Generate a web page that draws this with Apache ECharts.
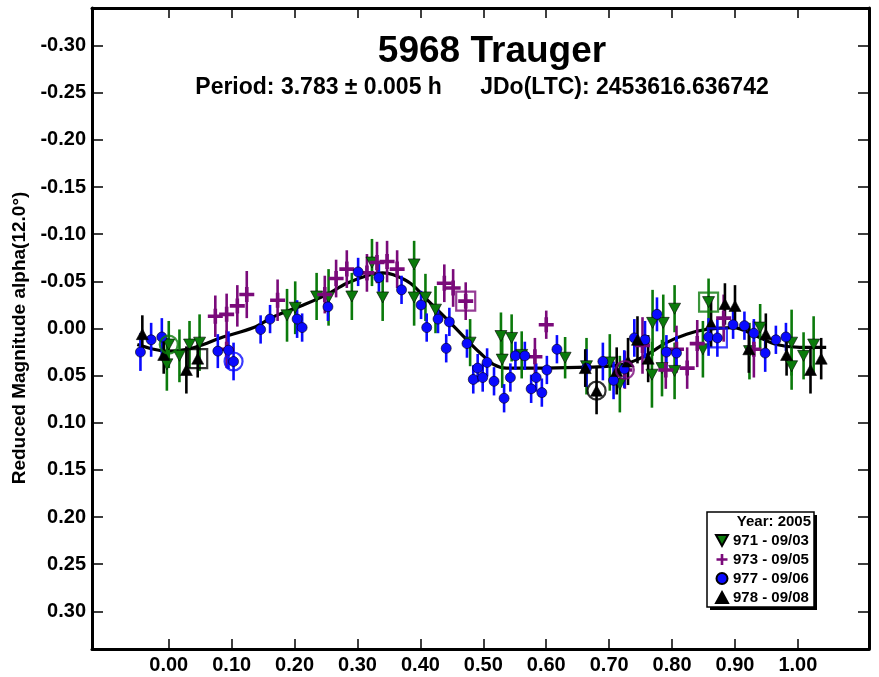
<!DOCTYPE html>
<html>
<head>
<meta charset="utf-8">
<script src="https://cdn.jsdelivr.net/npm/echarts@6/dist/echarts.min.js"></script>
<style>
  html, body { margin: 0; padding: 0; background: #fff; }
  #chart { width: 879px; height: 677px; }
</style>
</head>
<body>
<div id="chart"></div>
<script>
"use strict";

// tick positions
const xTicks = [0, 0.1, 0.2, 0.3, 0.4, 0.5, 0.6, 0.7, 0.8, 0.9, 1.0];
const yTicks = [-0.30, -0.25, -0.20, -0.15, -0.10, -0.05, 0, 0.05, 0.10, 0.15, 0.20, 0.25, 0.30];

// legend names
const sessions = ['971 - 09/03', '973 - 09/05', '977 - 09/06', '978 - 09/08'];

// [phase, reduced mag, error]
const pts971 = [
    [-0.003, 0.038, 0.028], [0.0, 0.017, 0.025], [0.017, 0.029, 0.028], [0.033, 0.017, 0.025],
    [0.049, 0.015, 0.030], [0.188, -0.014, 0.028], [0.201, -0.022, 0.028], [0.235, -0.034, 0.025],
    [0.254, -0.033, 0.030], [0.291, -0.034, 0.025], [0.323, -0.070, 0.025], [0.340, -0.033, 0.025],
    [0.390, -0.068, 0.025], [0.390, -0.033, 0.030], [0.408, -0.033, 0.025], [0.424, -0.020, 0.025],
    [0.479, 0.015, 0.025], [0.528, 0.008, 0.025], [0.530, 0.033, 0.030], [0.545, 0.010, 0.025],
    [0.561, 0.028, 0.025], [0.630, 0.031, 0.022], [0.664, 0.040, 0.030], [0.701, 0.036, 0.030],
    [0.717, 0.059, 0.030], [0.768, 0.049, 0.035], [0.769, -0.006, 0.035], [0.784, 0.042, 0.030],
    [0.786, -0.006, 0.030], [0.804, -0.021, 0.025], [0.804, 0.045, 0.030], [0.849, 0.022, 0.030],
    [0.858, -0.028, 0.025], [0.923, 0.024, 0.030], [0.940, -0.001, 0.025], [0.990, 0.015, 0.035],
    [0.990, 0.040, 0.025], [1.009, 0.029, 0.025], [1.025, 0.017, 0.030]
];
const pts973 = [
    [0.074, -0.013, 0.022], [0.092, -0.015, 0.022], [0.092, 0.022, 0.020], [0.109, -0.024, 0.022],
    [0.124, -0.036, 0.025], [0.173, -0.030, 0.022], [0.248, -0.036, 0.020], [0.266, -0.053, 0.020],
    [0.283, -0.063, 0.020], [0.315, -0.059, 0.020], [0.331, -0.070, 0.022], [0.347, -0.071, 0.022],
    [0.363, -0.063, 0.020], [0.438, -0.048, 0.020], [0.452, -0.043, 0.020], [0.472, -0.029, 0.020],
    [0.582, 0.030, 0.020], [0.600, -0.004, 0.015], [0.725, 0.044, 0.020], [0.753, 0.018, 0.030],
    [0.790, 0.044, 0.020], [0.807, 0.022, 0.025], [0.824, 0.042, 0.022], [0.840, 0.016, 0.025],
    [0.882, -0.011, 0.025], [0.930, 0.022, 0.030]
];
const pts977 = [
    [-0.045, 0.025, 0.020], [-0.028, 0.012, 0.018], [-0.011, 0.009, 0.020], [0.078, 0.024, 0.018],
    [0.095, 0.023, 0.020], [0.103, 0.035, 0.020], [0.146, 0.001, 0.015], [0.161, -0.010, 0.015],
    [0.204, -0.010, 0.020], [0.212, -0.001, 0.015], [0.253, -0.023, 0.015], [0.301, -0.060, 0.015],
    [0.334, -0.054, 0.015], [0.370, -0.041, 0.015], [0.401, -0.025, 0.015], [0.410, -0.001, 0.015],
    [0.428, -0.010, 0.015], [0.441, 0.021, 0.015], [0.446, -0.007, 0.015], [0.474, 0.016, 0.015],
    [0.484, 0.054, 0.015], [0.491, 0.042, 0.015], [0.499, 0.052, 0.015], [0.506, 0.036, 0.015],
    [0.517, 0.056, 0.015], [0.533, 0.074, 0.015], [0.543, 0.052, 0.015], [0.551, 0.029, 0.015],
    [0.566, 0.029, 0.015], [0.576, 0.064, 0.015], [0.584, 0.052, 0.015], [0.593, 0.068, 0.015],
    [0.601, 0.044, 0.015], [0.617, 0.022, 0.015], [0.664, 0.042, 0.020], [0.690, 0.035, 0.020],
    [0.707, 0.055, 0.020], [0.724, 0.043, 0.020], [0.740, 0.010, 0.020], [0.757, 0.012, 0.020],
    [0.776, -0.015, 0.018], [0.791, 0.025, 0.018], [0.807, 0.026, 0.018], [0.858, 0.009, 0.020],
    [0.872, 0.010, 0.020], [0.897, -0.004, 0.015], [0.915, -0.003, 0.015], [0.930, 0.005, 0.015],
    [0.948, 0.026, 0.020], [0.965, 0.012, 0.015], [0.981, 0.009, 0.015]
];
const pts978 = [
    [-0.042, 0.006, 0.020], [-0.008, 0.028, 0.020], [0.028, 0.044, 0.025], [0.046, 0.032, 0.020],
    [0.662, 0.042, 0.020], [0.680, 0.066, 0.025], [0.712, 0.045, 0.025], [0.730, 0.035, 0.025],
    [0.745, 0.012, 0.025], [0.762, 0.032, 0.025], [0.862, -0.005, 0.025], [0.884, -0.026, 0.022],
    [0.900, -0.024, 0.022], [0.922, 0.022, 0.025], [0.949, 0.006, 0.022], [0.982, 0.028, 0.022],
    [1.020, 0.044, 0.025], [1.037, 0.032, 0.022]
];

// first point of each session, [phase, mag, session index]
const circleMarks = [[0.0, 0.017, 0], [0.103, 0.035, 2], [0.680, 0.066, 3], [0.725, 0.044, 1]];
const squareMarks = [[0.046, 0.032, 3], [0.472, -0.029, 1], [0.858, -0.028, 0], [0.872, 0.010, 2]];

// Fourier fit
const fitPhase = [-0.05, -0.024, -0.003, 0.029, 0.055, 0.082, 0.135, 0.165, 0.214, 0.251, 0.283,
    0.320, 0.340, 0.357, 0.384, 0.410, 0.442, 0.468, 0.495, 0.516, 0.537, 0.590, 0.664, 0.701,
    0.733, 0.760, 0.791, 0.823, 0.855, 0.897, 0.934, 0.966, 1.003, 1.045];
const fitMag = [0.017, 0.022, 0.024, 0.022, 0.017, 0.010, -0.001, -0.012, -0.025, -0.036, -0.048,
    -0.057, -0.059, -0.057, -0.048, -0.031, -0.010, 0.008, 0.026, 0.038, 0.042, 0.042, 0.041, 0.040,
    0.036, 0.028, 0.015, 0.006, 0.001, -0.001, 0.008, 0.017, 0.020, 0.020];

const colors = ['#0b7a0b', '#7a0a7a', '#0a0aff', '#000000'];
const symbols = [
    'path://M0,0 L10,0 L5,9 Z',
    'path://M3.8,0 H6.2 V3.8 H10 V6.2 H6.2 V10 H3.8 V6.2 H0 V3.8 H3.8 Z',
    'circle',
    'triangle'
];
const sizes = [[12, 11], 15, 10, [12, 11]];
const allPts = [pts971, pts973, pts977, pts978];

const FONT = '"Liberation Sans", Arial, sans-serif';

function errBars(i) {
    return {
        type: 'custom',
        name: sessions[i] + ' err',
        silent: true,
        z: 2,
        renderItem: (params, api) => {
            const x = api.value(0), y = api.value(1), e = api.value(2);
            const a = api.coord([x, y - e]), b = api.coord([x, y + e]);
            return {
                type: 'line',
                shape: { x1: a[0], y1: a[1], x2: b[0], y2: b[1] },
                style: { stroke: colors[i], lineWidth: 2.6 }
            };
        },
        encode: { x: 0, y: 1 },
        data: allPts[i]
    };
}

function marks(i) {
    return {
        type: 'scatter',
        name: sessions[i],
        z: 3,
        symbol: symbols[i],
        symbolSize: sizes[i],
        itemStyle: { color: colors[i], borderColor: '#000', borderWidth: i === 1 ? 0 : 0.6, opacity: 1 },
        data: allPts[i].map(p => [p[0], p[1]])
    };
}

const series = [{
    type: 'line',
    name: 'fit',
    z: 1,
    smooth: 0.35,
    symbol: 'none',
    silent: true,
    lineStyle: { color: '#000', width: 3.2 },
    data: fitPhase.map((p, k) => [p, fitMag[k]])
}];
for (let i = 0; i < 4; i++) series.push(errBars(i));
for (let i = 0; i < 4; i++) series.push(marks(i));
series.push({
    type: 'scatter', name: 'first-circle', z: 4, silent: true,
    symbol: 'circle', symbolSize: 18,
    data: circleMarks.map(m => ({ value: [m[0], m[1]],
        itemStyle: { color: 'rgba(0,0,0,0)', borderColor: colors[m[2]], borderWidth: 2.2 } }))
});
series.push({
    type: 'scatter', name: 'first-square', z: 4, silent: true,
    symbol: 'rect', symbolSize: 19,
    data: squareMarks.map(m => ({ value: [m[0], m[1]],
        itemStyle: { color: 'rgba(0,0,0,0)', borderColor: colors[m[2]], borderWidth: 2.2 } }))
});

const axisLine = { show: true, onZero: false, lineStyle: { color: '#000', width: 3 } };
const tickStyle = { color: '#000', width: 1.5 };

const chart = echarts.init(document.getElementById('chart'), null, { renderer: 'canvas' });
const option = {
    backgroundColor: '#fff',
    animation: false,
    textStyle: { fontFamily: FONT },
    title: {
        text: '5968 Trauger',
        left: 487, top: 28, textAlign: 'center',
        textStyle: { fontFamily: FONT, fontWeight: 'bold', fontSize: 37, color: '#000' }
    },
    grid: { left: 92, right: 10, top: 8, bottom: 28 },
    legend: {
        data: sessions,
        orient: 'vertical',
        left: 715, top: 533,
        z: 20,
        itemWidth: 12, itemHeight: 11, itemGap: 4,
        padding: 0,
        selectedMode: false,
        textStyle: { fontFamily: FONT, fontWeight: 'bold', fontSize: 15, color: '#000' }
    },
    xAxis: [{
        type: 'value', min: -0.122, max: 1.113,
        axisLine: axisLine,
        axisTick: { show: true, inside: true, length: 10, lineStyle: tickStyle, customValues: xTicks },
        axisLabel: {
            customValues: xTicks, margin: 6,
            formatter: v => v.toFixed(2),
            fontFamily: FONT, fontWeight: 'bold', fontSize: 20, color: '#000'
        },
        splitLine: { show: false }
    }, {
        type: 'value', min: -0.122, max: 1.113, position: 'top',
        axisLine: axisLine,
        axisTick: { show: true, inside: true, length: 10, lineStyle: tickStyle, customValues: xTicks },
        axisLabel: { show: false },
        splitLine: { show: false }
    }],
    yAxis: [{
        type: 'value', min: -0.34, max: 0.34, inverse: true,
        axisLine: axisLine,
        axisTick: { show: true, inside: true, length: 11, lineStyle: tickStyle, customValues: yTicks },
        axisLabel: {
            customValues: yTicks, margin: 6,
            formatter: v => v.toFixed(2),
            fontFamily: FONT, fontWeight: 'bold', fontSize: 20, color: '#000'
        },
        splitLine: { show: false }
    }, {
        type: 'value', min: -0.34, max: 0.34, inverse: true, position: 'right',
        axisLine: axisLine,
        axisTick: { show: true, inside: true, length: 11, lineStyle: tickStyle, customValues: yTicks },
        axisLabel: { show: false },
        splitLine: { show: false }
    }],
    graphic: [
        {
            type: 'text', x: 482, y: 88, z: 10,
            style: {
                text: 'Period: 3.783 \u00b1 0.005 h      JDo(LTC): 2453616.636742',
                align: 'center', verticalAlign: 'middle',
                font: 'bold 23px ' + FONT, fill: '#000'
            }
        },
        {
            type: 'text', x: 20, y: 338, rotation: Math.PI / 2, z: 10,
            style: {
                text: 'Reduced Magnitude alpha(12.0\u00b0)',
                align: 'center', verticalAlign: 'middle',
                font: 'bold 19px ' + FONT, fill: '#000'
            }
        },
        { type: 'rect', shape: { x: 710, y: 515, width: 107, height: 95 }, style: { fill: '#000' }, z: 1 },
        { type: 'rect', shape: { x: 707, y: 512, width: 107, height: 95 },
          style: { fill: '#fff', stroke: '#000', lineWidth: 1.5 }, z: 2 },
        {
            type: 'text', x: 811, y: 522, z: 3,
            style: { text: 'Year: 2005', align: 'right', verticalAlign: 'middle',
                     font: 'bold 15px ' + FONT, fill: '#000' }
        }
    ],
    series: series
};
option && chart.setOption(option);
</script>
</body>
</html>
